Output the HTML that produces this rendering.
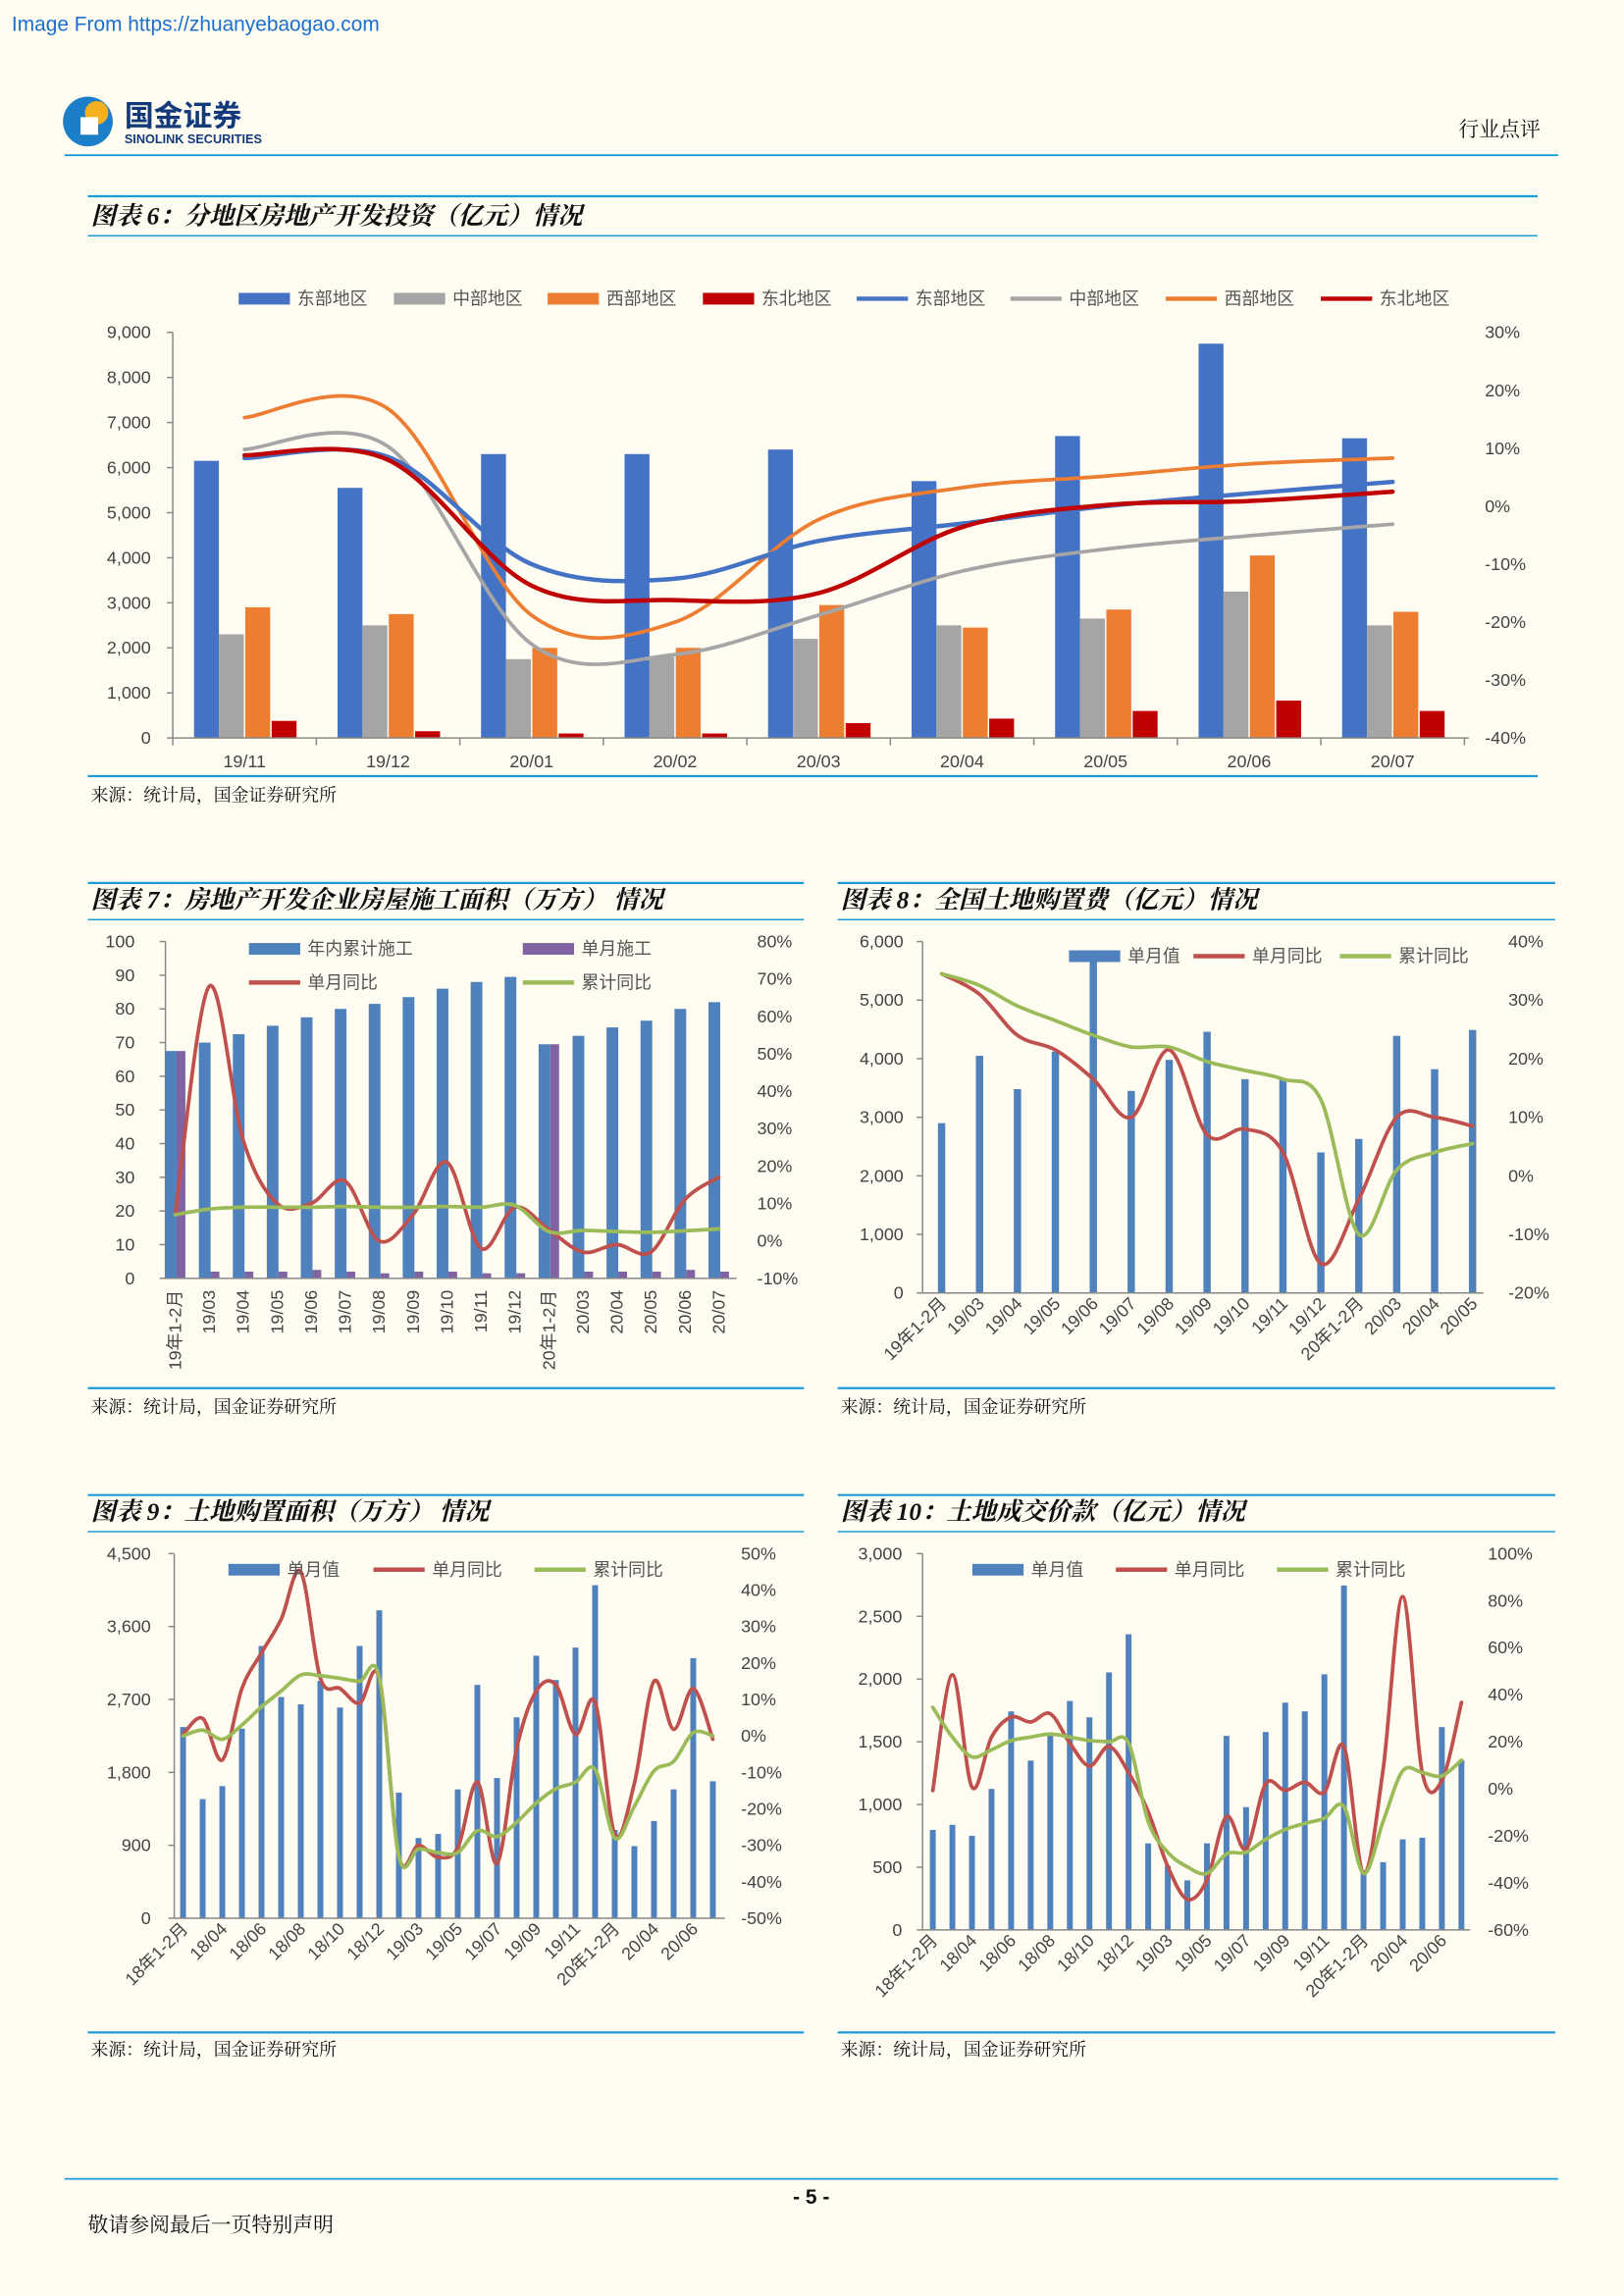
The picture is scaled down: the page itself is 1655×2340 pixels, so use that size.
<!DOCTYPE html>
<html><head><meta charset="utf-8">
<style>
html,body{margin:0;padding:0;background:#fffdf2;}
svg{display:block;}
text{font-family:"Liberation Sans","Noto Sans CJK SC",sans-serif;}
.ttl{font-family:"Liberation Serif","Noto Serif CJK SC",serif;font-weight:bold;font-style:italic;font-size:17px;fill:#111;}
.src{font-family:"Liberation Serif","Noto Serif CJK SC",serif;font-size:12px;fill:#111;}
.tk{font-size:12px;fill:#444;}
.lg{font-size:12px;fill:#555;}
</style></head>
<body>
<svg id="page" xmlns="http://www.w3.org/2000/svg" width="1655" height="2340" viewBox="0 0 1109 1568" preserveAspectRatio="none">
<rect x="0" y="0" width="1109" height="1568" fill="#fffdf2"/>
<text x="8" y="21" font-size="14" fill="#1a6fd0">Image From https://zhuanyebaogao.com</text>
<g>
<circle cx="60" cy="83" r="17" fill="#1a7fc8"/>
<circle cx="66" cy="77" r="8" fill="#f5b120"/>
<rect x="55" y="80" width="12" height="12" fill="#fff"/>
<text x="85" y="86" font-size="20" font-weight="bold" fill="#123a7a">国金证券</text>
<text x="85" y="98" font-size="8.5" font-weight="bold" fill="#123a7a">SINOLINK SECURITIES</text>
</g>
<text x="1052" y="93" font-size="14" text-anchor="end" class="src" style="font-size:14px">行业点评</text>
<line x1="44" y1="106" x2="1064" y2="106" stroke="#1a9bd7" stroke-width="1.2"/>

<line x1="60" y1="134" x2="1050" y2="134" stroke="#1a9bd7" stroke-width="1.5"/>
<text x="62" y="153" class="ttl">图表 6：分地区房地产开发投资（亿元）情况</text>
<line x1="60" y1="161" x2="1050" y2="161" stroke="#1a9bd7" stroke-width="1"/>
<line x1="60" y1="530" x2="1050" y2="530" stroke="#1a9bd7" stroke-width="1.5"/>
<text x="62" y="547" class="src">来源：统计局，国金证券研究所</text>

<line x1="60" y1="603" x2="549" y2="603" stroke="#1a9bd7" stroke-width="1.5"/>
<text x="62" y="620" class="ttl">图表 7：房地产开发企业房屋施工面积（万方） 情况</text>
<line x1="60" y1="628" x2="549" y2="628" stroke="#1a9bd7" stroke-width="1"/>
<line x1="60" y1="948" x2="549" y2="948" stroke="#1a9bd7" stroke-width="1.5"/>
<text x="62" y="965" class="src">来源：统计局，国金证券研究所</text>

<line x1="572" y1="603" x2="1062" y2="603" stroke="#1a9bd7" stroke-width="1.5"/>
<text x="574" y="620" class="ttl">图表 8：全国土地购置费（亿元）情况</text>
<line x1="572" y1="628" x2="1062" y2="628" stroke="#1a9bd7" stroke-width="1"/>
<line x1="572" y1="948" x2="1062" y2="948" stroke="#1a9bd7" stroke-width="1.5"/>
<text x="574" y="965" class="src">来源：统计局，国金证券研究所</text>

<line x1="60" y1="1021" x2="549" y2="1021" stroke="#1a9bd7" stroke-width="1.5"/>
<text x="62" y="1038" class="ttl">图表 9：土地购置面积（万方） 情况</text>
<line x1="60" y1="1046" x2="549" y2="1046" stroke="#1a9bd7" stroke-width="1"/>
<line x1="60" y1="1388" x2="549" y2="1388" stroke="#1a9bd7" stroke-width="1.5"/>
<text x="62" y="1404" class="src">来源：统计局，国金证券研究所</text>

<line x1="572" y1="1021" x2="1062" y2="1021" stroke="#1a9bd7" stroke-width="1.5"/>
<text x="574" y="1038" class="ttl">图表 10：土地成交价款（亿元）情况</text>
<line x1="572" y1="1046" x2="1062" y2="1046" stroke="#1a9bd7" stroke-width="1"/>
<line x1="572" y1="1388" x2="1062" y2="1388" stroke="#1a9bd7" stroke-width="1.5"/>
<text x="574" y="1404" class="src">来源：统计局，国金证券研究所</text>

<line x1="44" y1="1488" x2="1064" y2="1488" stroke="#1a9bd7" stroke-width="1.2"/>
<text x="554" y="1505" text-anchor="middle" font-size="14" font-weight="bold" fill="#111">- 5 -</text>
<text x="60" y="1524" class="src" style="font-size:14px">敬请参阅最后一页特别声明</text>
<g id="charts"></g>
</svg>
<script>
// ---------- Chart 6 data ----------
const c6Cats=["19/11","19/12","20/01","20/02","20/03","20/04","20/05","20/06","20/07"];
const c6East=[6150,5550,6300,6300,6400,5700,6700,8750,6650];
const c6Central=[2300,2500,1750,1800,2200,2500,2650,3250,2500];
const c6West=[2900,2750,2000,2000,2950,2450,2850,4050,2800];
const c6NE=[380,150,100,100,330,430,600,830,600];
const c6EastYoY=[8.3,8.5,-10,-12.5,-6,-3,0,2.2,4.2];
const c6CentralYoY=[9.8,10.3,-23.8,-25.6,-18.8,-11.2,-7.4,-5.1,-3.1];
const c6WestYoY=[15.3,16.8,-18.8,-20,-2.3,3.2,5.2,7.3,8.3];
const c6NEYoY=[8.8,8.0,-13.7,-16.2,-15,-3.6,0.2,0.9,2.5];
const c6LeftTicks=[0,1000,2000,3000,4000,5000,6000,7000,8000,9000];
const c6RightTicks=[-40,-30,-20,-10,0,10,20,30];
// ---------- Chart 7 data ----------
const c7Cats=["19年1-2月","19/03","19/04","19/05","19/06","19/07","19/08","19/09","19/10","19/11","19/12","20年1-2月","20/03","20/04","20/05","20/06","20/07"];
const c7Cum=[67.5,70,72.5,75,77.5,80,81.5,83.5,86,88,89.5,69.5,72,74.5,76.5,80,82];
const c7Month=[67.5,2,2,2,2.5,2,1.5,2,2,1.5,1.5,69.5,2,2,2,2.5,2];
const c7MonthYoY=[7,68,27,10,10,16,0,7,21,-2,9,3,-3,-1,-3,11,17];
const c7CumYoY=[7,8.5,9,9,9,9.2,9,9,9.2,9,9.5,2.5,2.8,2.5,2.3,2.7,3.2];
const c7LeftTicks=[0,10,20,30,40,50,60,70,80,90,100];
const c7RightTicks=[-10,0,10,20,30,40,50,60,70,80];
// ---------- Chart 8 data ----------
const c8Cats=["19年1-2月","19/03","19/04","19/05","19/06","19/07","19/08","19/09","19/10","19/11","19/12","20年1-2月","20/03","20/04","20/05"];
const c8Vals=[2900,4050,3480,4120,5800,3450,3980,4460,3650,3650,2400,2630,4390,3820,4490];
const c8MonthYoY=[34.5,31,24,21.5,16.5,10,21.5,7,8,4,-15,-4,10,10,8.5];
const c8CumYoY=[34.5,32.5,29,26.5,24,22,22,19.5,18,16.5,13,-10,1,4,5.5];
const c8LeftTicks=[0,1000,2000,3000,4000,5000,6000];
const c8RightTicks=[-20,-10,0,10,20,30,40];
// ---------- Chart 9 data ----------
const c9Cats=["18年1-2月","18/03","18/04","18/05","18/06","18/07","18/08","18/09","18/10","18/11","18/12","19年1-2月","19/03","19/04","19/05","19/06","19/07","19/08","19/09","19/10","19/11","19/12","20年1-2月","20/03","20/04","20/05","20/06","20/07"];
const c9Vals=[2360,1470,1630,2340,3360,2730,2640,2930,2600,3360,3800,1550,990,1040,1590,2880,1730,2480,3240,2940,3340,4110,1090,890,1200,1590,3210,1690];
const c9MonthYoY=[0.4,4.8,-6.6,13,22.8,32,45,15.8,13,9,15.8,-33,-30,-33.3,-30.7,-12.7,-35,-3.5,12.3,14,0.4,9.2,-27,-13,15,1.8,13,-0.9];
const c9CumYoY=[0,1.6,-0.9,3,8,12.3,16.7,16.5,15.8,15,16,-33,-31,-32,-32,-26,-27.6,-23.7,-18.4,-14.5,-12.7,-9.2,-28,-19.3,-9.6,-7,0.9,0];
const c9LeftTicks=[0,900,1800,2700,3600,4500];
const c9RightTicks=[-50,-40,-30,-20,-10,0,10,20,30,40,50];
// ---------- Chart 10 data ----------
const c10Cats=c9Cats.slice();
const c10Vals=[797,838,750,1124,1742,1350,1565,1825,1695,2053,2357,690,511,395,690,1547,979,1578,1812,1742,2038,2746,475,540,722,735,1617,1352];
const c10MonthYoY=[-0.7,48.5,0.7,22,30.5,28.4,31.9,19.4,9.7,18,6.9,-9.7,-33,-47,-38.8,-11.8,-25.6,2.1,-0.7,2.8,-1.4,18,-36,8.3,81.7,6.9,3.5,36.7];
const c10CumYoY=[34.6,22,13.6,16.6,20.5,22,23.3,22,20.5,20,19.4,-13.9,-27,-33.2,-36,-27.7,-27,-21.5,-17.3,-14.7,-12.5,-7.6,-36,-13.9,7.6,6.9,5.5,12.2];
const c10LeftTicks=[0,500,1000,1500,2000,2500,3000];
const c10RightTicks=[-60,-40,-20,0,20,40,60,80,100];

const NS="http://www.w3.org/2000/svg";
const root=document.getElementById('charts');
function mk(tag,attrs,parent){const e=document.createElementNS(NS,tag);for(const k in attrs)e.setAttribute(k,attrs[k]);(parent||root).appendChild(e);return e;}
function smooth(pts){let d="M"+pts[0][0]+","+pts[0][1];for(let i=0;i<pts.length-1;i++){const p0=pts[i-1]||pts[i],p1=pts[i],p2=pts[i+1],p3=pts[i+2]||p2;const c1x=p1[0]+(p2[0]-p0[0])/6,c1y=p1[1]+(p2[1]-p0[1])/6,c2x=p2[0]-(p3[0]-p1[0])/6,c2y=p2[1]-(p3[1]-p1[1])/6;d+=" C"+c1x+","+c1y+" "+c2x+","+c2y+" "+p2[0]+","+p2[1];}return d;}
function fmt(v){return v.toLocaleString('en-US');}

function chart(o){
  const g=mk('g',{});
  
  
  const yL=v=>o.yb-(v-o.lmin)/(o.lmax-o.lmin)*(o.yb-o.yt);
  const yR=v=>o.yb-(v-o.rmin)/(o.rmax-o.rmin)*(o.yb-o.yt);
  const cx=i=>o.cx0+i*o.step;
  const la=mk('line',{x1:o.ax,y1:o.yt,x2:o.ax,y2:o.yb,stroke:'#888','stroke-width':1},g);
  
  
  o.lt.forEach(v=>{const t=mk('text',{x:o.ltx,y:yL(v)+4,'text-anchor':'end',class:'tk'},g);t.textContent=o.lfmt(v);
    
    
    mk('line',{x1:o.ax-4,y1:yL(v),x2:o.ax,y2:yL(v),stroke:'#888'},g);});
  o.rt.forEach(v=>{const t=mk('text',{x:o.rtx,y:yR(v)+4,'text-anchor':'start',class:'tk'},g);t.textContent=v+'%';
    
    });
  o.bars.forEach(b=>{b.vals.forEach((v,i)=>{const y=yL(v);const r=mk('rect',{x:cx(i)+b.off-b.w/2,y:y,width:b.w,height:o.yb-y,fill:b.color},g);
    
    });});
  const xa=mk('line',{x1:o.ax,y1:o.yb,x2:o.xe,y2:o.yb,stroke:'#888','stroke-width':1},g);
  
  
  o.lines.forEach(l=>{const pts=l.vals.map((v,i)=>[cx(i),yR(v)]);const p=mk('path',{d:smooth(pts),fill:'none',stroke:l.color,'stroke-width':l.w||2.5,'stroke-linecap':'round'},g);
    
    });
  o.cats.forEach((c,i)=>{if(i%(o.every||1))return;const x=cx(i);let t;
    if(o.rot===0){t=mk('text',{x:x,y:o.yb+20,'text-anchor':'middle',class:'tk'},g);}
    else{t=mk('text',{x:x+4,y:o.yb+8,'text-anchor':'end',class:'tk',transform:'rotate('+o.rot+' '+(x+4)+' '+(o.yb+8)+')'},g);}
    t.textContent=c;
    
    });
  if(o.tickEvery){for(let k=0;k<=o.cats.length;k+=o.tickEvery){const x=cx(k)-o.step/2;mk('line',{x1:x,y1:o.yb,x2:x,y2:o.yb+5,stroke:'#888'},g);}}
  return g;
}
function legRect(x,y,color,label,name){const r=mk('rect',{x:x,y:y-4,width:35,height:8,fill:color});
  
  
  const t=mk('text',{x:x+40,y:y+4,class:'lg'});t.textContent=label;
  
  }
function legLine(x,y,color,label,name){const l=mk('line',{x1:x,y1:y,x2:x+35,y2:y,stroke:color,'stroke-width':3});
  
  
  const t=mk('text',{x:x+40,y:y+4,class:'lg'});t.textContent=label;
  
  }

chart({name:'chart-6-regional-investment',ax:118,xe:1003,yt:227,yb:504,lmin:0,lmax:9000,rmin:-40,rmax:30,cx0:167,step:98,
  lt:c6LeftTicks,ltx:103,lfmt:fmt,rt:c6RightTicks,rtx:1014,cats:c6Cats,rot:0,tickEvery:1,
  bars:[{name:'bar-east',vals:c6East,off:-26,w:17,color:'#4472c4'},{name:'bar-central',vals:c6Central,off:-9,w:17,color:'#a5a5a5'},
        {name:'bar-west',vals:c6West,off:9,w:17,color:'#ed7d31'},{name:'bar-northeast',vals:c6NE,off:27,w:17,color:'#c00000'}],
  lines:[{name:'line-central-yoy',vals:c6CentralYoY,color:'#a5a5a5'},{name:'line-west-yoy',vals:c6WestYoY,color:'#ed7d31'},
         {name:'line-east-yoy',vals:c6EastYoY,color:'#4472c4',w:3},{name:'line-northeast-yoy',vals:c6NEYoY,color:'#c00000',w:3}]});
legRect(163,204,'#4472c4','东部地区','legend-east-bar');legRect(269,204,'#a5a5a5','中部地区','legend-central-bar');
legRect(374,204,'#ed7d31','西部地区','legend-west-bar');legRect(480,204,'#c00000','东北地区','legend-northeast-bar');
legLine(585,204,'#4472c4','东部地区','legend-east-line');legLine(690,204,'#a5a5a5','中部地区','legend-central-line');
legLine(796,204,'#ed7d31','西部地区','legend-west-line');legLine(902,204,'#c00000','东北地区','legend-northeast-line');

chart({name:'chart-7-construction-area',ax:113,xe:503,yt:643,yb:873,lmin:0,lmax:100,rmin:-10,rmax:80,cx0:119.6,step:23.2,
  lt:c7LeftTicks,ltx:92,lfmt:v=>String(v),rt:c7RightTicks,rtx:517,cats:c7Cats,rot:-90,
  bars:[{name:'bar-cumulative-area',vals:c7Cum,off:-3,w:8,color:'#4f81bd'},{name:'bar-monthly-area',vals:c7Month,off:4,w:6,color:'#8064a2'}],
  lines:[{name:'line-monthly-yoy',vals:c7MonthYoY,color:'#c0504d'},{name:'line-cumulative-yoy',vals:c7CumYoY,color:'#9bbb59'}]});
legRect(170,648,'#4f81bd','年内累计施工','legend-cumulative');legRect(357,648,'#8064a2','单月施工','legend-monthly');
legLine(170,671,'#c0504d','单月同比','legend-monthly-yoy');legLine(357,671,'#9bbb59','累计同比','legend-cumulative-yoy');

chart({name:'chart-8-land-purchase-cost',ax:630,xe:1013,yt:643,yb:883,lmin:0,lmax:6000,rmin:-20,rmax:40,cx0:643,step:25.9,
  lt:c8LeftTicks,ltx:617,lfmt:fmt,rt:c8RightTicks,rtx:1030,cats:c8Cats,rot:-45,
  bars:[{name:'bar-monthly-value',vals:c8Vals,off:0,w:5,color:'#4f81bd'}],
  lines:[{name:'line-monthly-yoy',vals:c8MonthYoY,color:'#c0504d'},{name:'line-cumulative-yoy',vals:c8CumYoY,color:'#9bbb59'}]});
legRect(730,653,'#4f81bd','单月值','legend-monthly-value');legLine(815,653,'#c0504d','单月同比','legend-monthly-yoy');legLine(915,653,'#9bbb59','累计同比','legend-cumulative-yoy');

chart({name:'chart-9-land-purchase-area',ax:119,xe:495,yt:1061,yb:1310,lmin:0,lmax:4500,rmin:-50,rmax:50,cx0:125,step:13.4,
  lt:c9LeftTicks,ltx:103,lfmt:fmt,rt:c9RightTicks,rtx:506,cats:c9Cats,rot:-45,every:2,
  bars:[{name:'bar-monthly-value',vals:c9Vals,off:0,w:4,color:'#4f81bd'}],
  lines:[{name:'line-monthly-yoy',vals:c9MonthYoY,color:'#c0504d'},{name:'line-cumulative-yoy',vals:c9CumYoY,color:'#9bbb59'}]});
legRect(156,1072,'#4f81bd','单月值','legend-monthly-value');legLine(255,1072,'#c0504d','单月同比','legend-monthly-yoy');legLine(365,1072,'#9bbb59','累计同比','legend-cumulative-yoy');

chart({name:'chart-10-land-transaction-value',ax:630,xe:1004,yt:1061,yb:1318,lmin:0,lmax:3000,rmin:-60,rmax:100,cx0:637,step:13.37,
  lt:c10LeftTicks,ltx:616,lfmt:fmt,rt:c10RightTicks,rtx:1016,cats:c10Cats,rot:-45,every:2,
  bars:[{name:'bar-monthly-value',vals:c10Vals,off:0,w:4,color:'#4f81bd'}],
  lines:[{name:'line-monthly-yoy',vals:c10MonthYoY,color:'#c0504d'},{name:'line-cumulative-yoy',vals:c10CumYoY,color:'#9bbb59'}]});
legRect(664,1072,'#4f81bd','单月值','legend-monthly-value');legLine(762,1072,'#c0504d','单月同比','legend-monthly-yoy');legLine(872,1072,'#9bbb59','累计同比','legend-cumulative-yoy');
</script>
</body></html>
